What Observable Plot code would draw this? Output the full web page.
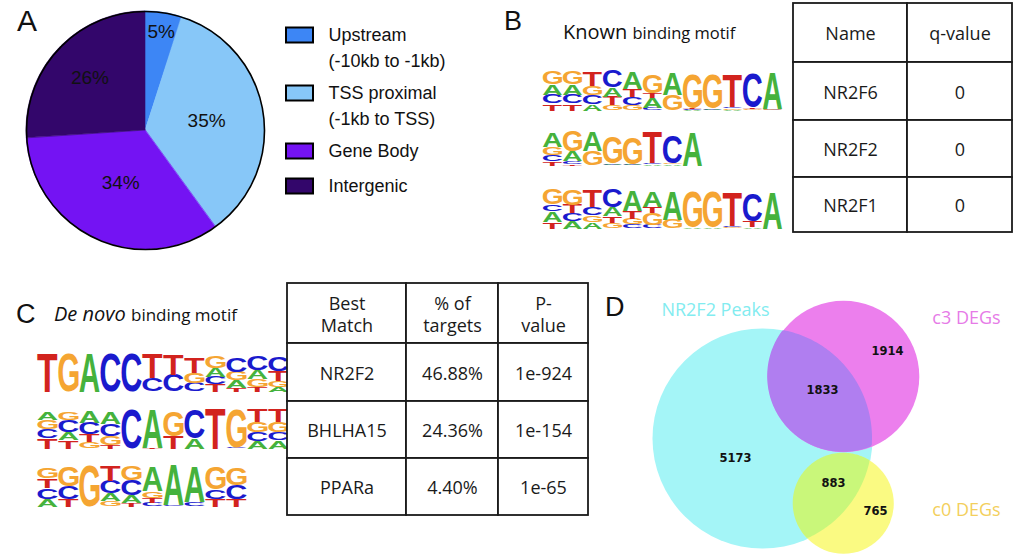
<!DOCTYPE html>
<html><head><meta charset="utf-8">
<script src="https://cdn.jsdelivr.net/npm/d3@7"></script>
<script src="https://cdn.jsdelivr.net/npm/@observablehq/plot@0.6"></script>
<style>
html,body{margin:0;padding:0;background:#fff;}
#fig{position:relative;width:1028px;height:557px;overflow:hidden;background:#fff;}
#fig svg{position:absolute;left:0;top:0;}
.lbl{position:absolute;white-space:nowrap;line-height:1;color:#111;}
</style></head><body><div id="fig"></div>
<script>
// ---------------- DATA ----------------
// Panel A: genomic distribution of peaks
const regionNames = ["Upstream", "TSS proximal", "Gene Body", "Intergenic"];
const regionLegend = [["Upstream", "(-10kb to -1kb)"], ["TSS proximal", "(-1kb to TSS)"], ["Gene Body"], ["Intergenic"]];
const regionPercent = [5, 35, 34, 26];

// Panel B: known motifs (letter stacks top -> bottom, heights as fraction of full column)
const knownHeader = ["Name", "q-value"];
const knownNames = ["NR2F6", "NR2F2", "NR2F1"];
const knownQ = ["0", "0", "0"];
const logoNR2F6 = ["G.33 A.25 C.21 T.17", "G.33 A.25 C.21 T.17", "T.36 G.22 C.22 A.16", "C.40 A.22 T.21 G.13",
  "A.42 T.20 C.20 G.12", "G.45 T.12 A.25 C.06", "A.55 G.38", "G.82 T.02 C.02 A.02", "G.84 A.02 C.02",
  "T.80 C.04 G.03 A.02", "C.82 T.04 G.03", "A.88 G.02 C.02"];
const logoNR2F2 = ["A.42 G.22 C.18 T.12", "G.58 A.28 C.08 T.04", "A.55 G.42", "G.75 A.03 C.02", "G.76 A.02 C.02",
  "T.90 C.04 A.03", "C.80 G.04 A.03", "A.97"];
const logoNR2F1 = ["G.38 C.17 A.26 T.17", "G.38 T.21 C.19 A.19", "T.43 C.21 G.17 A.17", "C.47 A.21 T.17 G.14",
  "A.50 T.18 G.15 C.10", "A.40 T.15 G.30 C.08", "A.72 G.22", "G.88 A.02", "G.88 A.03", "T.85 C.03 G.03",
  "C.70 T.16 A.03", "A.92"];

// Panel C: de novo motifs
const denovoHeader = [["Best", "Match"], ["% of", "targets"], ["P-", "value"]];
const denovoMatch = ["NR2F2", "BHLHA15", "PPARa"];
const denovoTargets = ["46.88%", "24.36%", "4.40%"];
const denovoP = ["1e-924", "1e-154", "1e-65"];
const logoDenovo1 = ["T.98", "G.98", "A.98", "C.98", "C.98", "T.62 C.34", "T.52 C.42", "T.40 G.25 C.22",
  "G.30 A.22 C.20 T.18", "C.38 G.22 A.18 T.10", "C.36 A.22 G.20 T.12", "C.36 T.25 G.15 A.12"];
const logoDenovo2 = ["A.20 G.22 C.22 T.26", "G.20 C.30 A.20 T.20", "A.28 C.28 T.20 G.15", "A.28 C.30 G.22 T.08",
  "C.96", "A.94 T.02", "G.62 T.30", "C.72 A.24", "T.97", "G.92 C.02", "T.30 G.24 C.22 A.18", "T.30 G.24 C.20 A.20"];
const logoDenovo3 = ["G.25 T.22 C.25 A.18", "G.45 C.30 T.18", "G.96", "T.35 C.30 A.18 G.12", "G.32 C.35 A.18 T.08",
  "A.58 G.16 T.12 C.08", "A.92 C.04", "A.82 C.10", "G.52 C.22 T.18", "G.40 C.32 T.18"];

// Panel D: Venn diagram (sets: A = NR2F2 Peaks, B = c3 DEGs, C = c0 DEGs)
const vennSets = ["NR2F2 Peaks", "c3 DEGs", "c0 DEGs"];
const vennRegionSets = ["A", "AB", "B", "AC", "C"];
const vennRegionCounts = [5173, 1833, 1914, 883, 765];

// ---------------- LAYOUT / STYLE ----------------
const layout = {
  pie: {cx: 145, cy: 130, r: 119, labelR: [0.84, 0.52, 0.49, 0.64]},
  legend: {x0: 286, x1: 313, textX: 328, boxY: [35, 93, 151, 186], boxH: 15, lineGap: 26},
  logos: {NR2F6: [528, 775, 110, 69], NR2F2: [528, 695, 165, 130], NR2F1: [528, 775, 228, 188],
          dn1: [24, 280, 391, 352], dn2: [24, 280, 448, 407], dn3: [24, 237, 506, 463]},
  tableB: {cols: [793, 907, 1012], rows: [3, 62, 120, 177, 232]},
  tableC: {cols: [287, 406, 498, 588], rows: [283, 343, 401, 458, 515]},
  venn: {maxR: 110, centers: [[762, 438], [843, 376], [843, 503]],
         regionXY: [[735, 458], [822, 390], [887, 351], [833, 483], [875, 511]],
         labelXY: [[715, 310], [966, 318], [966, 510]]}
};
const pieColors = ["#3d86f5", "#87c7f8", "#7413f3", "#33066b"];
const baseColors = {A: "#45b23c", C: "#1a1acd", G: "#f5a532", T: "#d2231e"};
const vennColors = ["#a4f5f7", "#ec7fed", "#fafa82"];
const vennLensColors = {AB: "#b07ef0", AC: "#c9f77a"};
const vennLabelColors = ["#82ecf0", "#e67be7", "#f3cf5c"];
const SANS = "Liberation Sans, Arial, sans-serif";
const OPEN = "Open Sans, sans-serif";

const W = 1028, H = 557;
const fig = document.getElementById("fig");
const base = {width: W, height: H, margin: 0, style: {background: "transparent", overflow: "visible"}};
const add = (p) => (fig.appendChild(p), p);

// ---------------- PANEL A: pie ----------------
{
  const P = layout.pie;
  const arcs = d3.pie().sort(null)(regionPercent);
  const pts = arcs.flatMap((a, i) => {
    const n = Math.max(2, Math.ceil((a.endAngle - a.startAngle) / 0.01));
    return d3.range(n + 1).map(k => {
      const t = a.startAngle + (a.endAngle - a.startAngle) * k / n;
      return {name: regionNames[i], x: Math.sin(t), y: Math.cos(t)};
    });
  });
  const labels = arcs.map((a, i) => {
    const t = (a.startAngle + a.endAngle) / 2, rr = P.labelR[i];
    return {text: regionPercent[i] + "%", x: rr * Math.sin(t), y: rr * Math.cos(t)};
  });
  add(Plot.plot({...base,
    x: {domain: [-1, 1], range: [P.cx - P.r, P.cx + P.r], axis: null},
    y: {domain: [-1, 1], range: [P.cy + P.r, P.cy - P.r], axis: null},
    color: {domain: regionNames, range: pieColors},
    marks: [
      Plot.area(pts, {x1: "x", y1: "y", x2: 0, y2: 0, z: "name", fill: "name", stroke: "name", strokeWidth: 0.6}),
      Plot.dot([{x: 0, y: 0}], {x: "x", y: "y", r: P.r, stroke: "#000", strokeWidth: 1.6, fill: "none"}),
      Plot.text(labels, {x: "x", y: "y", text: "text", fontSize: 19, fontFamily: SANS, fill: "#111"})
    ]}));

  const L = layout.legend;
  const boxes = regionNames.map((n, i) => ({y: L.boxY[i], color: pieColors[i]}));
  const lines = regionLegend.flatMap((ls, i) => ls.map((t, k) => ({text: t, y: L.boxY[i] + k * L.lineGap})));
  add(Plot.plot({...base,
    x: {type: "identity", axis: null}, y: {type: "identity", axis: null}, color: {type: "identity"},
    marks: [
      Plot.rect(boxes, {x1: L.x0, x2: L.x1, y1: d => d.y - L.boxH / 2, y2: d => d.y + L.boxH / 2, fill: "color", stroke: "#000", strokeWidth: 2}),
      Plot.text(lines, {x: L.textX, y: "y", text: "text", textAnchor: "start", fontSize: 18, fontFamily: SANS, fill: "#111"})
    ]}));
}

// ---------------- Sequence logos ----------------
const ctx = document.createElement("canvas").getContext("2d");
ctx.font = 'bold 100px "Liberation Sans"';
const ink = {};
for (const L of "ACGT") {
  const m = ctx.measureText(L);
  ink[L] = {l: m.actualBoundingBoxLeft, r: m.actualBoundingBoxRight, a: m.actualBoundingBoxAscent, d: m.actualBoundingBoxDescent};
}
function logo(cols, [x0, x1, yb, yt]) {
  const rows = [];
  cols.forEach((s, i) => {
    const parts = s.split(" ").map(p => [p[0], +p.slice(1)]);
    let acc = 0;
    for (const [letter, h] of parts.slice().reverse()) { rows.push({pos: i, letter, y0: acc, y1: acc + h}); acc += h; }
  });
  const plot = add(Plot.plot({...base,
    x: {type: "band", domain: d3.range(cols.length), range: [x0, x1], padding: 0, axis: null},
    y: {domain: [0, 1], range: [yb, yt], axis: null},
    color: {domain: ["A", "C", "G", "T"], range: ["A", "C", "G", "T"].map(k => baseColors[k])},
    marks: [Plot.text(rows, {x: "pos", y: "y0", text: "letter", fill: "letter", fontSize: 100, fontWeight: "bold",
      fontFamily: "Liberation Sans", textAnchor: "start"})]
  }));
  const xs = plot.scale("x"), ys = plot.scale("y"), bw = xs.bandwidth;
  const nodes = plot.querySelectorAll('g[aria-label="text"] text');
  nodes.forEach((node, i) => {
    const d = rows[i], m = ink[d.letter], pad = 0.4;
    const xl = xs.apply(d.pos) + pad, w = bw - 2 * pad;
    const top = ys.apply(d.y1), h = ys.apply(d.y0) - top;
    node.removeAttribute("dy");
    node.setAttribute("x", 0);
    node.setAttribute("y", 0);
    node.setAttribute("transform",
      `translate(${xl},${top}) scale(${w / (m.l + m.r)},${h / (m.a + m.d)}) translate(${m.l},${m.a})`);
  });
}
logo(logoNR2F6, layout.logos.NR2F6);
logo(logoNR2F2, layout.logos.NR2F2);
logo(logoNR2F1, layout.logos.NR2F1);
logo(logoDenovo1, layout.logos.dn1);
logo(logoDenovo2, layout.logos.dn2);
logo(logoDenovo3, layout.logos.dn3);

// ---------------- Tables ----------------
function table(header, rows, {cols, rows: re}) {
  const cells = [];
  [header, ...rows].forEach((r, i) => r.forEach((t, j) => cells.push({
    text: Array.isArray(t) ? t.join("\n") : t, x1: cols[j], x2: cols[j + 1], y1: re[i], y2: re[i + 1]})));
  add(Plot.plot({...base,
    x: {type: "identity", axis: null}, y: {type: "identity", axis: null},
    marks: [
      Plot.rect(cells, {x1: "x1", x2: "x2", y1: "y1", y2: "y2", fill: "white", stroke: "#1a1a1a", strokeWidth: 1.8}),
      Plot.text(cells, {x: d => (d.x1 + d.x2) / 2, y: d => (d.y1 + d.y2) / 2, text: "text", fontSize: 18,
        fontFamily: OPEN, fill: "#1a1a1a", lineHeight: 1.22})
    ]}));
}
table(knownHeader, knownNames.map((n, i) => [n, knownQ[i]]), layout.tableB);
table(denovoHeader, denovoMatch.map((n, i) => [n, denovoTargets[i], denovoP[i]]), layout.tableC);

// ---------------- PANEL D: Venn ----------------
{
  const V = layout.venn;
  const totals = ["A", "B", "C"].map(s => d3.sum(vennRegionSets.map((k, i) => k.includes(s) ? vennRegionCounts[i] : 0)));
  const rOpts = {type: "sqrt", domain: [0, d3.max(totals)], range: [0, V.maxR]};
  const rS = Plot.scale({r: rOpts});
  const circles = vennSets.map((name, i) => ({name, n: totals[i], x: V.centers[i][0], y: V.centers[i][1], color: vennColors[i], rad: rS.apply(totals[i])}));
  function lensPts(c1, c2, id, color, n = 360) {
    const arc = (a, b) => {
      const start = Math.atan2(a.y - b.y, a.x - b.x), out = [];
      for (let k = 0; k <= n; k++) {
        const t = start + 2 * Math.PI * k / n, px = a.x + a.rad * Math.cos(t), py = a.y + a.rad * Math.sin(t);
        if (Math.hypot(px - b.x, py - b.y) <= b.rad) out.push([px, py]);
      }
      return out;
    };
    const p = [...arc(c1, c2), ...arc(c2, c1)];
    p.push(p[0]); // close the outline so the fan has no gap
    const cx = d3.mean(p, q => q[0]), cy = d3.mean(p, q => q[1]);
    return p.map(([x, y]) => ({id, color, x, y, cx, cy}));
  }
  const lens = [...lensPts(circles[0], circles[1], "AB", vennLensColors.AB), ...lensPts(circles[0], circles[2], "AC", vennLensColors.AC)];
  const regionLabels = vennRegionCounts.map((c, i) => ({text: String(c), x: V.regionXY[i][0], y: V.regionXY[i][1]}));
  const setLabels = vennSets.map((s, i) => ({text: s, x: V.labelXY[i][0], y: V.labelXY[i][1], color: vennLabelColors[i]}));
  add(Plot.plot({...base,
    x: {type: "identity", axis: null}, y: {type: "identity", axis: null}, color: {type: "identity"}, r: rOpts,
    marks: [
      Plot.dot(circles, {x: "x", y: "y", r: "n", fill: "color", sort: null}),
      Plot.area(lens, {x1: "x", y1: "y", x2: "cx", y2: "cy", z: "id", fill: "color"}),
      Plot.text(regionLabels, {x: "x", y: "y", text: "text", fontSize: 11.5, fontWeight: "bold", fontFamily: "DejaVu Sans", fill: "#111"}),
      Plot.text(setLabels, {x: "x", y: "y", text: "text", fill: "color", fontSize: 18, fontFamily: OPEN})
    ]}));
}

// ---------------- Panel letters and titles ----------------
const htmlLabels = [
  {html: "A", left: 17, top: 6, size: 30, font: SANS},
  {html: "B", left: 504, top: 8, size: 27, font: SANS},
  {html: "C", left: 16, top: 301, size: 27, font: SANS},
  {html: "D", left: 605, top: 294, size: 27, font: SANS},
  {html: '<span style="font-size:20px">Known</span> <span style="font-size:16.5px">binding motif</span>', left: 563, top: 22, size: 20, font: OPEN},
  {html: '<span style="font-size:20px;font-style:italic">De novo</span> <span style="font-size:17px">binding motif</span>', left: 54, top: 304, size: 20, font: OPEN}
];
for (const t of htmlLabels) {
  const d = document.createElement("div");
  d.className = "lbl";
  d.style.left = t.left + "px"; d.style.top = t.top + "px";
  d.style.fontSize = t.size + "px"; d.style.fontFamily = t.font;
  d.innerHTML = t.html;
  fig.appendChild(d);
}
</script></body></html>
